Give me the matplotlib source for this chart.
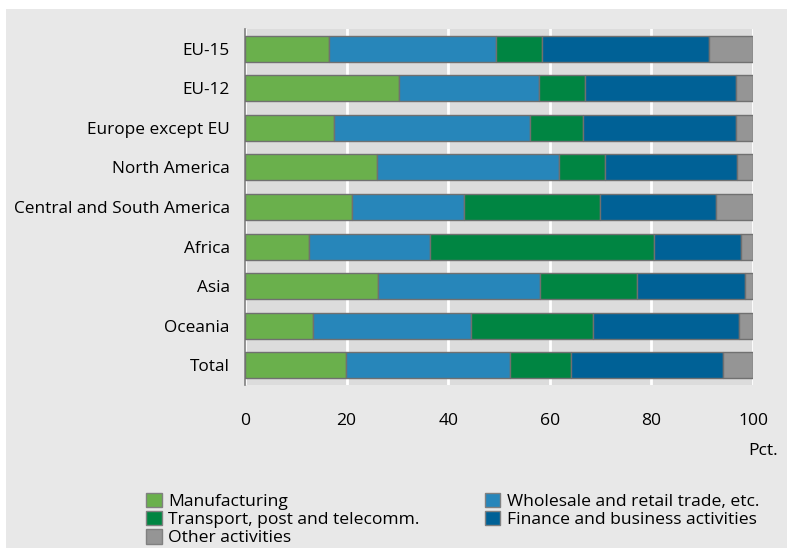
import numpy as np
import matplotlib.pyplot as plt
from matplotlib.patches import Rectangle, Patch

regions = ['EU-15', 'EU-12', 'Europe except EU', 'North America',
           'Central and South America', 'Africa', 'Asia', 'Oceania', 'Total']

manufacturing = [16.6, 30.4, 17.6, 25.9, 21.0, 12.6, 26.1, 13.3, 19.8]
wholesale = [32.8, 27.5, 38.5, 35.9, 22.1, 23.9, 31.9, 31.1, 32.4]
transport = [9.0, 9.1, 10.4, 9.0, 26.7, 44.1, 19.1, 24.2, 12.0]
finance = [32.9, 29.6, 30.1, 26.0, 23.0, 17.0, 21.3, 28.6, 29.8]
other = [8.7, 3.4, 3.4, 3.2, 7.2, 2.4, 1.6, 2.8, 6.0]

series = [('Manufacturing', manufacturing, '#6ab04c'),
          ('Wholesale and retail trade, etc.', wholesale, '#2786ba'),
          ('Transport, post and telecomm.', transport, '#008542'),
          ('Finance and business activities', finance, '#006196'),
          ('Other activities', other, '#959595')]

plt.rcParams['font.family'] = ['Open Sans', 'DejaVu Sans']

fig = plt.figure(figsize=(7.87, 5.48), dpi=100)
fig.patch.set_facecolor('white')
fig.patches.append(Rectangle((6 / 787, 0), 1, 1 - 9 / 548, transform=fig.transFigure,
                             facecolor='#e8e8e8', edgecolor='none', zorder=-10))

ax = fig.add_axes([245 / 787, 1 - 385 / 548, 508 / 787, 356 / 548])
ax.set_facecolor('#dcdcdc')

y = np.arange(len(regions))
left = np.zeros(len(regions))
handles = {}
for name, vals, col in series:
    vals = np.array(vals)
    ax.barh(y, vals, left=left, height=0.66, color=col,
            edgecolor='#707070', linewidth=1, zorder=3)
    handles[name] = Patch(facecolor=col, edgecolor='#808080', label=name)
    left += vals

ax.set_ylim(len(regions) - 0.5, -0.5)
ax.set_xlim(0, 100)
ax.set_yticks(y)
ax.set_yticklabels(regions, fontsize=12.4)
ax.set_xticks([0, 20, 40, 60, 80, 100])
ax.tick_params(axis='x', labelsize=12.6, length=0, pad=20)
ax.tick_params(axis='y', length=0, pad=11)
ax.grid(axis='x', color='white', linewidth=2, zorder=1)
for s in ['top', 'right', 'bottom']:
    ax.spines[s].set_visible(False)
ax.spines['left'].set_color('#808080')
ax.spines['left'].set_linewidth(1.2)

fig.text(763 / 787, 1 - 451 / 548, 'Pct.', fontsize=12.6, ha='center', va='center')

order = ['Manufacturing', 'Transport, post and telecomm.', 'Other activities',
         'Wholesale and retail trade, etc.', 'Finance and business activities']
fig.legend([handles[n] for n in order], order, ncol=2, frameon=False,
           loc='upper left', bbox_to_anchor=(137 / 787, 1 - 484 / 548),
           fontsize=12.6, handlelength=0.9, handleheight=0.9, handletextpad=0.4,
           labelspacing=0.05, columnspacing=3.7, borderpad=0)

fig.savefig('out.png', dpi=100)
